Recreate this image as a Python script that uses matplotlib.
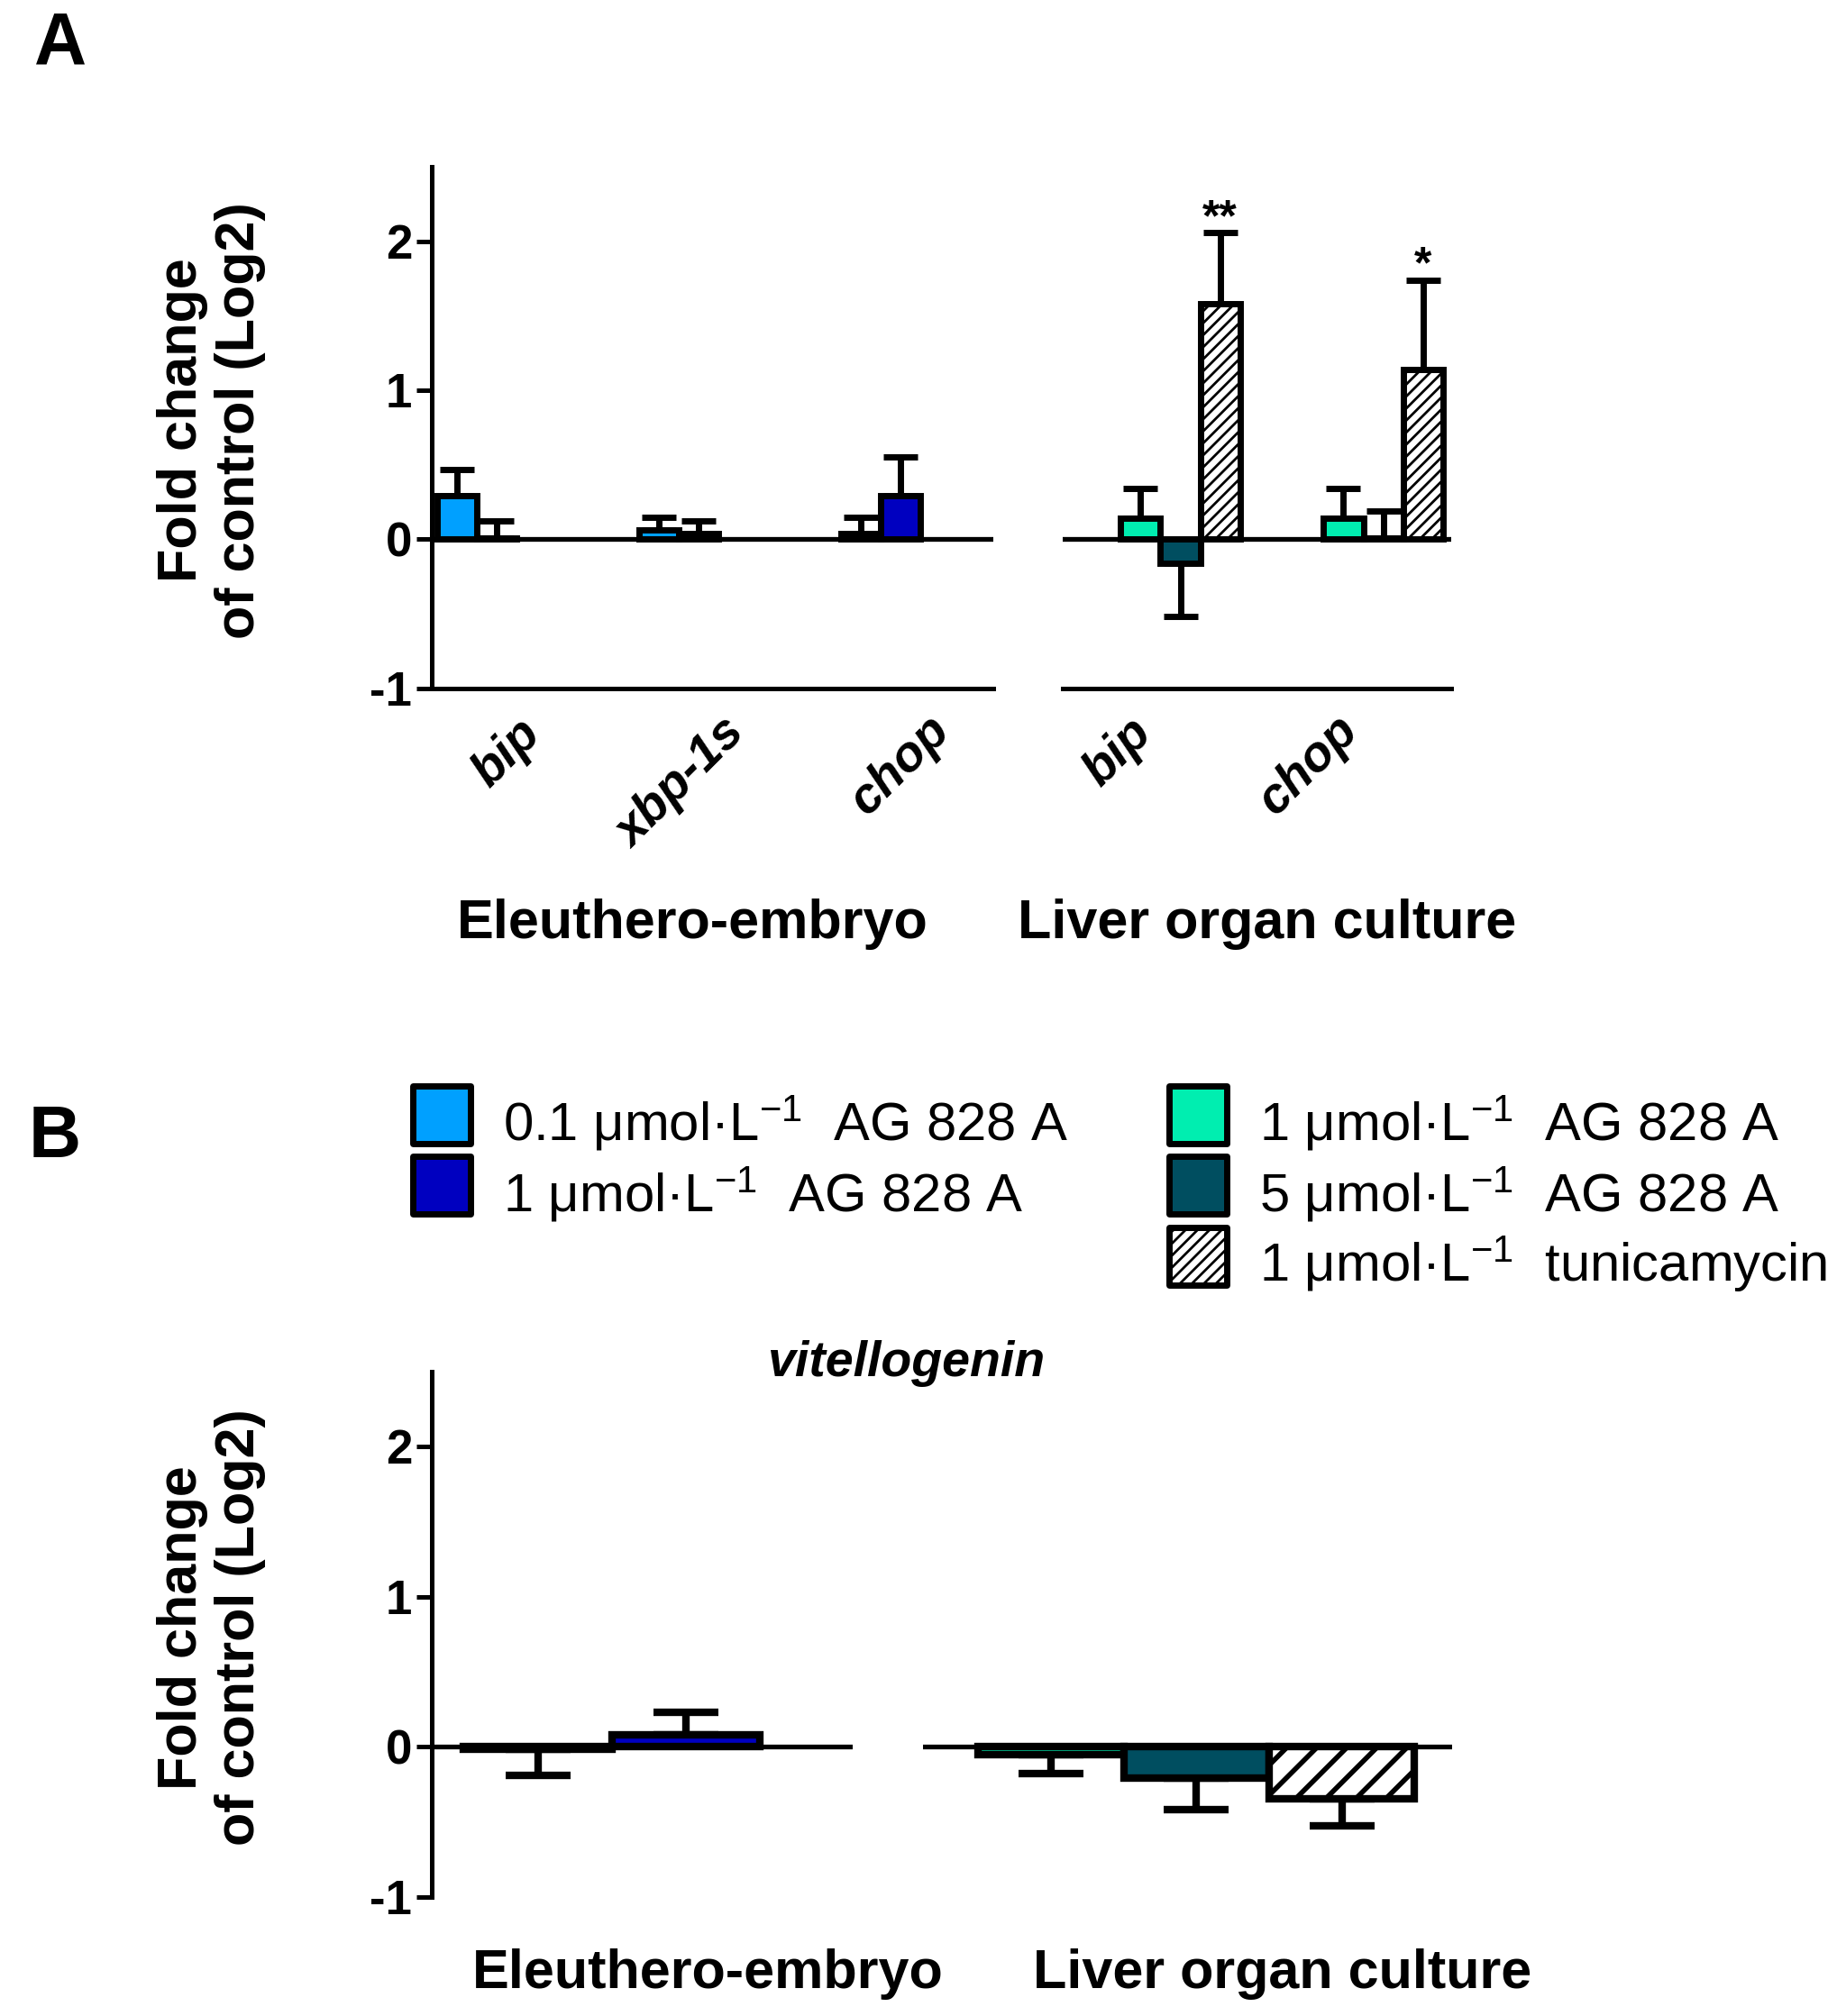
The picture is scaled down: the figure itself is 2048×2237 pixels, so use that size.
import numpy as np
import matplotlib
matplotlib.use("Agg")
import matplotlib.pyplot as plt
from matplotlib.patches import Rectangle

plt.rcParams['font.family'] = ['Liberation Sans', 'DejaVu Sans']
plt.rcParams['mathtext.fontset'] = 'custom'
plt.rcParams['mathtext.rm'] = 'Liberation Sans'
plt.rcParams['mathtext.it'] = 'Liberation Sans:italic'
plt.rcParams['mathtext.bf'] = 'Liberation Sans:bold'
plt.rcParams['axes.unicode_minus'] = False
plt.rcParams['hatch.linewidth'] = 1.0

# ---- data (log2 fold change, mean and one-sided SD) ----
emb_genes = ['bip', 'xbp-1s', 'chop']
emb_01 = [0.29, 0.06, 0.04]
emb_01_err = [0.18, 0.09, 0.11]
emb_1 = [0.01, 0.04, 0.29]
emb_1_err = [0.11, 0.08, 0.26]

liv_genes = ['bip', 'chop']
liv_1 = [0.14, 0.14]
liv_1_err = [0.20, 0.20]
liv_5 = [-0.16, 0.01]
liv_5_err = [0.36, 0.18]
liv_tun = [1.58, 1.14]
liv_tun_err = [0.48, 0.60]
liv_stars = ['**', '*']

vtg_emb = [-0.02, 0.08]
vtg_emb_err = [0.17, 0.15]
vtg_liv = [-0.055, -0.21, -0.345]
vtg_liv_err = [0.125, 0.21, 0.185]

yticks = [-1, 0, 1, 2]
group_names = ['Eleuthero-embryo', 'Liver organ culture']

c_01 = '#00A0FF'
c_1 = '#0000C0'
c_l1 = '#00EEB0'
c_l5 = '#004E60'

legend_left = [(c_01, '', '0.1 \u03bcmol\u00b7L$^{-1}$  AG 828 A'),
               (c_1, '', '1 \u03bcmol\u00b7L$^{-1}$  AG 828 A')]
legend_right = [(c_l1, '', '1 \u03bcmol\u00b7L$^{-1}$  AG 828 A'),
                (c_l5, '', '5 \u03bcmol\u00b7L$^{-1}$  AG 828 A'),
                ('white', '/////', '1 \u03bcmol\u00b7L$^{-1}$  tunicamycin')]

# layout helpers (reference measured on a 1440 x 1573 grid)
W, H = 1440.0, 1573.0


def fpos(l, t, r, b):
    return [l / W, 1 - b / H, (r - l) / W, (b - t) / H]


def fx(x):
    return x / W


def fy(y):
    return 1 - y / H


def bars(ax, x, vals, errs, color, width, cap, lw, hatch=None, hlw=1.0):
    with plt.rc_context({'hatch.linewidth': hlw}):
        b = ax.bar(x, vals, width, color=color, edgecolor='black', linewidth=lw,
                   hatch=hatch, zorder=3)
    if hatch:
        for p in b:
            if hasattr(p, 'set_hatch_linewidth'):
                p.set_hatch_linewidth(hlw)
    lo = [e if v < 0 else 0 for v, e in zip(vals, errs)]
    hi = [0 if v < 0 else e for v, e in zip(vals, errs)]
    ax.errorbar(x, vals, yerr=[lo, hi], fmt='none', ecolor='black',
                elinewidth=lw, capsize=cap, capthick=lw, zorder=2)


def style(ax, show_left, show_bottom):
    for s in ['top', 'right']:
        ax.spines[s].set_visible(False)
    ax.spines['left'].set_visible(show_left)
    ax.spines['bottom'].set_visible(show_bottom)
    ax.spines['left'].set_linewidth(1.8)
    ax.spines['bottom'].set_linewidth(1.8)
    ax.set_xticks([])
    ax.set_ylim(-1, 2.5)
    if show_left:
        ax.set_yticks(yticks)
        ax.set_yticklabels([str(t) for t in yticks], fontweight='bold')
        ax.tick_params(axis='y', labelsize=19, width=1.8, length=6, pad=2)
    else:
        ax.set_yticks([])
    ax.axhline(0, color='black', lw=1.9, zorder=4)
    ax.patch.set_alpha(0)


fig = plt.figure(figsize=(10.24, 11.185), dpi=200)

# ---------------- panel A ----------------
w = 0.196
axA1 = fig.add_axes(fpos(337, 130, 775, 537))
g = np.arange(len(emb_genes))
bars(axA1, g - w / 2, emb_01, emb_01_err, c_01, w, 6.7, 2.5)
bars(axA1, g + w / 2, emb_1, emb_1_err, c_1, w, 6.7, 2.5)
style(axA1, True, True)
axA1.set_xlim(-0.22, 2.56)
for gi, name, dx, yy in zip(g, emb_genes, [0.15, 0.01, 0.10], [-1.44, -1.64, -1.52]):
    axA1.text(gi + dx, yy, name, rotation=45, ha='center', va='center',
              fontsize=20, fontweight='bold', fontstyle='italic', clip_on=False)

axA2 = fig.add_axes(fpos(829, 130, 1132, 537))
g2 = np.arange(len(liv_genes))
bars(axA2, g2 - w, liv_1, liv_1_err, c_l1, w, 6.7, 2.5)
bars(axA2, g2, liv_5, liv_5_err, c_l5, w, 6.7, 2.5)
bars(axA2, g2 + w, liv_tun, liv_tun_err, 'white', w, 6.7, 2.5, hatch='/////', hlw=1.0)
style(axA2, False, True)
axA2.set_xlim(-0.58, 1.335)
for gi, v, e, s in zip(g2, liv_tun, liv_tun_err, liv_stars):
    axA2.text(gi + w, v + e - 0.05, s, ha='center', va='bottom',
              fontsize=18, fontweight='bold')
for gi, name, dx, yy in zip(g2, liv_genes, [-0.31, -0.37], [-1.43, -1.52]):
    axA2.text(gi + dx, yy, name, rotation=45, ha='center', va='center',
              fontsize=20, fontweight='bold', fontstyle='italic', clip_on=False)

fig.text(fx(47), fy(35), 'A', ha='center', va='center', fontsize=29, fontweight='bold')
fig.text(fx(540), fy(721), group_names[0], ha='center', va='center', fontsize=22, fontweight='bold')
fig.text(fx(988), fy(721), group_names[1], ha='center', va='center', fontsize=22, fontweight='bold')
fig.text(fx(165), fy(328), 'Fold change\nof control (Log2)', rotation=90, ha='center',
         va='center', multialignment='center', fontsize=22, fontweight='bold', linespacing=1.15)

# ---------------- panel B ----------------
fig.text(fx(43), fy(888), 'B', ha='center', va='center', fontsize=29, fontweight='bold')

sq = 45
for (col, hat, lab), yc in zip(legend_left, [870, 925]):
    r = Rectangle((fx(322), fy(yc + sq / 2)), sq / W, sq / H, transform=fig.transFigure,
                  facecolor=col, edgecolor='black', linewidth=2.5, hatch=hat or None,
                  joinstyle='round')
    fig.add_artist(r)
    fig.text(fx(392), fy(yc + 20), lab, ha='left', va='baseline', fontsize=21.5)
for (col, hat, lab), yc in zip(legend_right, [870, 925, 980]):
    with plt.rc_context({'hatch.linewidth': 1.0}):
        r = Rectangle((fx(912), fy(yc + sq / 2)), sq / W, sq / H, transform=fig.transFigure,
                      facecolor=col, edgecolor='black', linewidth=2.5, hatch=hat or None,
                      joinstyle='round')
    fig.add_artist(r)
    fig.text(fx(982), fy(yc + 20), lab, ha='left', va='baseline', fontsize=21.5)

fig.text(fx(707), fy(1064), 'vitellogenin', ha='center', va='center', fontsize=20,
         fontweight='bold', fontstyle='italic')

axB1 = fig.add_axes(fpos(337, 1070, 665, 1480))
xb = np.arange(len(vtg_emb))
bars(axB1, xb[:1], vtg_emb[:1], vtg_emb_err[:1], c_01, 1.0, 13, 3.0)
bars(axB1, xb[1:], vtg_emb[1:], vtg_emb_err[1:], c_1, 1.0, 13, 3.0)
style(axB1, True, False)
axB1.set_xlim(-0.714, 2.125)

axB2 = fig.add_axes(fpos(720, 1070, 1133, 1480))
xl = np.arange(len(vtg_liv))
bars(axB2, xl[:1], vtg_liv[:1], vtg_liv_err[:1], c_l1, 1.0, 13, 3.0)
bars(axB2, xl[1:2], vtg_liv[1:2], vtg_liv_err[1:2], c_l5, 1.0, 13, 3.0)
bars(axB2, xl[2:], vtg_liv[2:], vtg_liv_err[2:], 'white', 1.0, 13, 3.0, hatch='//', hlw=2.0)
style(axB2, False, False)
axB2.set_xlim(-0.88, 2.76)

fig.text(fx(552), fy(1540), group_names[0], ha='center', va='center', fontsize=22, fontweight='bold')
fig.text(fx(1000), fy(1540), group_names[1], ha='center', va='center', fontsize=22, fontweight='bold')
fig.text(fx(165), fy(1270), 'Fold change\nof control (Log2)', rotation=90, ha='center',
         va='center', multialignment='center', fontsize=22, fontweight='bold', linespacing=1.15)

fig.savefig('out.png', dpi=200, facecolor='white')
